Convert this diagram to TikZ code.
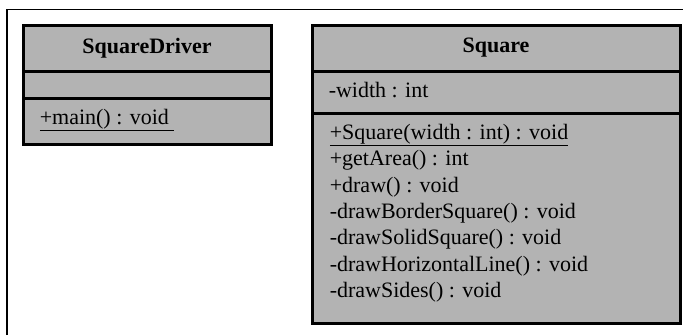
\documentclass[tikz,border=0pt]{standalone}
\usepackage{fontspec}
\setmainfont{Liberation Serif}
\definecolor{umlgray}{RGB}{179,179,179}
\tikzset{
  compart/.style={draw,line width=3pt,fill=umlgray,inner sep=0pt,outer sep=0pt,anchor=north west},
  member/.style={anchor=base west,inner sep=0pt}
}
\begin{document}
\begin{tikzpicture}[x=1pt,y=-1pt,line width=1.5pt,font=\fontsize{22}{26}\selectfont]
  \useasboundingbox (0,0) rectangle (683,335);
  % frame
  \coordinate (fbl) at (7,335);
  \coordinate (ftl) at (7,9.5);
  \coordinate (ftr) at (683,9.5);
  \draw (fbl)--(ftl)--(ftr);
  % SquareDriver
  \node[compart,minimum width=248pt,minimum height=46pt] (drvname) at (23,25) {\bfseries SquareDriver};
  \node[compart,minimum width=248pt,minimum height=27pt] (drvattr) at (drvname.south west) {};
  \node[compart,minimum width=248pt,minimum height=46pt] (drvops) at (drvattr.south west) {};
  \node[member] (drvmain) at (39,124.5) {\underline{+main() : void\ }};
  % Square
  \node[compart,minimum width=368pt,minimum height=46pt] (sqname) at (312,25) {\bfseries Square};
  \node[compart,minimum width=368pt,minimum height=42pt] (sqattr) at (sqname.south west) {};
  \node[compart,minimum width=368pt,minimum height=210pt] (sqops) at (sqattr.south west) {};
  \node[member] (sqwidth) at (328,97.5) {-width : int};
  \foreach \txt [count=\i] in {{\underline{+Square(width : int) : void}},
      +getArea() : int,+draw() : void,-drawBorderSquare() : void,
      -drawSolidSquare() : void,-drawHorizontalLine() : void,-drawSides() : void}
    \node[member] (op\i) at (329,{139.5+26.3*(\i-1)}) {\txt};
\end{tikzpicture}
\end{document}
